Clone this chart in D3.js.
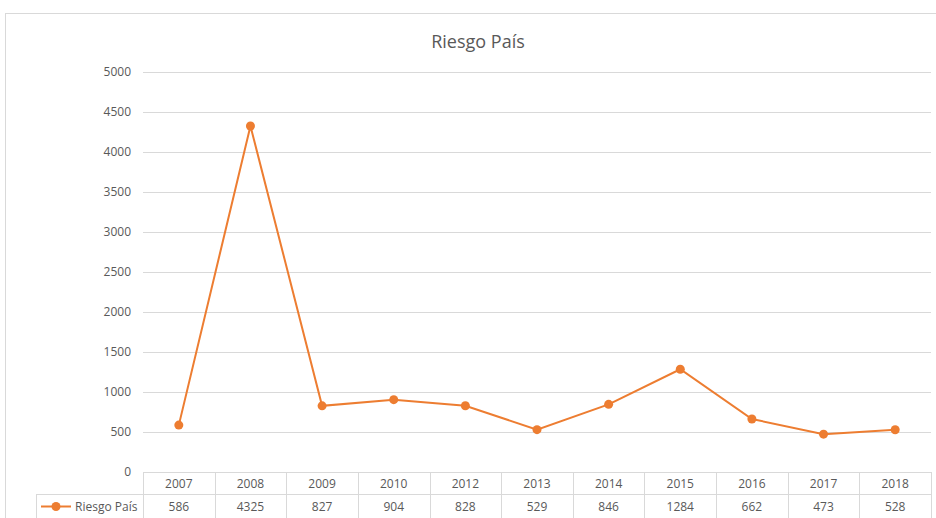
<!DOCTYPE html>
<meta charset="utf-8">
<style>
body { margin: 0; background: #fff; }
svg text { font-family: "Open Sans", "Noto Sans", Arial, sans-serif; fill: #595959; }
.grid line { stroke: #d9d9d9; stroke-width: 1; }
.tabla line { stroke: #d9d9d9; stroke-width: 1; }
</style>
<svg width="936" height="518"></svg>
<script src="https://d3js.org/d3.v7.min.js"></script>
<script>

// datos
var anios = ["2007", "2008", "2009", "2010", "2012", "2013", "2014", "2015", "2016", "2017", "2018"];
var riesgo = [586, 4325, 827, 904, 828, 529, 846, 1284, 662, 473, 528];
var ticksY = [0, 500, 1000, 1500, 2000, 2500, 3000, 3500, 4000, 4500, 5000];
var serie = "Riesgo País";
var titulo = "Riesgo País";

var naranja = "#ed7d31";

var svg = d3.select("svg");

// marco del grafico
svg.append("rect")
    .attr("x", 5.5).attr("y", 13.5)
    .attr("width", 940).attr("height", 520)
    .attr("fill", "none").attr("stroke", "#d9d9d9");

var x = d3.scaleBand().domain(anios).range([143, 931]);
var y = d3.scaleLinear().domain([0, 5000]).range([472, 72]);

svg.append("text")
    .attr("x", 478).attr("y", 48)
    .attr("text-anchor", "middle")
    .style("font-size", "18px")
    .text(titulo);

// lineas de grilla
svg.append("g").attr("class", "grid")
  .selectAll("line")
  .data(ticksY.filter(d => d > 0))
  .enter().append("line")
    .attr("x1", 143).attr("x2", 931)
    .attr("y1", d => Math.round(y(d)) + 0.5)
    .attr("y2", d => Math.round(y(d)) + 0.5);

// eje y (solo etiquetas)
var ejeY = svg.append("g")
    .attr("transform", "translate(143,0)")
    .call(d3.axisLeft(y).tickValues(ticksY).tickFormat(d3.format("d")).tickSize(0).tickPadding(12));
ejeY.select(".domain").remove();
ejeY.selectAll("text").style("font-size", "12px").style("fill", "#595959");

// linea
var linea = d3.line()
    .x((d, i) => x(anios[i]) + x.bandwidth() / 2)
    .y(d => y(d));

svg.append("path")
    .datum(riesgo)
    .attr("fill", "none")
    .attr("stroke", naranja)
    .attr("stroke-width", 2)
    .attr("d", linea);

svg.append("g")
  .selectAll("circle")
  .data(riesgo)
  .enter().append("circle")
    .attr("cx", (d, i) => x(anios[i]) + x.bandwidth() / 2)
    .attr("cy", d => y(d))
    .attr("r", 4.5)
    .attr("fill", naranja);

// tabla de datos
var filaTop = 472, filaMid = 494, filaBot = 518;
var tabla = svg.append("g").attr("class", "tabla");

tabla.append("line").attr("x1", 143).attr("x2", 931).attr("y1", filaTop + 0.5).attr("y2", filaTop + 0.5);
tabla.append("line").attr("x1", 36).attr("x2", 931).attr("y1", filaMid + 0.5).attr("y2", filaMid + 0.5);
tabla.append("line").attr("x1", 36.5).attr("x2", 36.5).attr("y1", filaMid).attr("y2", filaBot);

var bordes = anios.map(d => x(d)).concat([x.range()[1]]);
tabla.selectAll("line.col")
  .data(bordes)
  .enter().append("line")
    .attr("class", "col")
    .attr("x1", d => Math.round(d) + 0.5).attr("x2", d => Math.round(d) + 0.5)
    .attr("y1", filaTop).attr("y2", filaBot);

tabla.selectAll("text.anio")
  .data(anios)
  .enter().append("text")
    .attr("class", "anio")
    .attr("x", d => x(d) + x.bandwidth() / 2)
    .attr("y", 488)
    .attr("text-anchor", "middle")
    .style("font-size", "12px")
    .text(d => d);

tabla.selectAll("text.valor")
  .data(riesgo)
  .enter().append("text")
    .attr("class", "valor")
    .attr("x", (d, i) => x(anios[i]) + x.bandwidth() / 2)
    .attr("y", 511)
    .attr("text-anchor", "middle")
    .style("font-size", "12px")
    .text(d => d);

// leyenda en la tabla
tabla.append("line")
    .attr("x1", 41).attr("x2", 71).attr("y1", 506.5).attr("y2", 506.5)
    .style("stroke", naranja).style("stroke-width", 2);
tabla.append("circle").attr("cx", 56).attr("cy", 506.5).attr("r", 4.5).attr("fill", naranja);
tabla.append("text")
    .attr("x", 75).attr("y", 511)
    .style("font-size", "12px")
    .text(serie);

</script>
